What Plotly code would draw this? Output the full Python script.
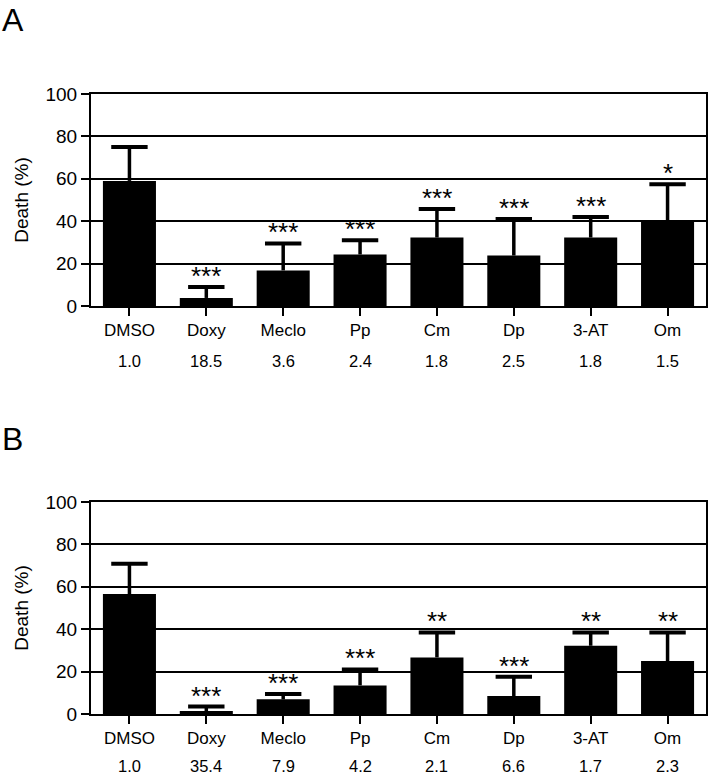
import plotly.graph_objects as go

categories = ["DMSO", "Doxy", "Meclo", "Pp", "Cm", "Dp", "3-AT", "Om"]

death_A = [59.0, 3.8, 16.8, 24.3, 32.3, 23.8, 32.3, 40.2]
err_A = [16.0, 5.2, 12.7, 6.7, 13.4, 17.2, 9.7, 17.2]
stars_A = ["", "***", "***", "***", "***", "***", "***", "*"]
fold_A = ["1.0", "18.5", "3.6", "2.4", "1.8", "2.5", "1.8", "1.5"]

death_B = [56.6, 1.4, 6.9, 13.5, 26.7, 8.5, 32.2, 25.0]
err_B = [14.3, 2.1, 2.5, 7.5, 11.8, 9.1, 6.3, 13.5]
stars_B = ["", "***", "***", "***", "**", "***", "**", "**"]
fold_B = ["1.0", "35.4", "7.9", "4.2", "2.1", "6.6", "1.7", "2.3"]

y_ticks = [0, 20, 40, 60, 80, 100]

W, H = 708, 777
FONT = "Arial, Liberation Sans, sans-serif"

def py(px):
    return 1 - px / H

fig = go.Figure()

# (xaxis, yaxis, values, errors, stars, fold labels, plot top px, plot bottom px,
#  panel letter, letter top px, fold-label offset px)
panels = [
    ("x", "y", death_A, err_A, stars_A, fold_A, 94, 306, "A", 0, 55),
    ("x2", "y2", death_B, err_B, stars_B, fold_B, 502, 714, "B", 419, 52),
]

annotations = []
for xa, ya, vals, errs, stars, folds, top, bot, letter, letter_top, foff in panels:
    tops = [v + e for v, e in zip(vals, errs)]
    fig.add_trace(go.Bar(
        x=categories, y=vals, xaxis=xa, yaxis=ya,
        marker=dict(color="black", line=dict(width=0)),
        error_y=dict(type="data", array=errs, arrayminus=[0] * len(errs),
                     symmetric=False, color="black", thickness=3.5, width=0),
        showlegend=False, hoverinfo="skip",
    ))
    # error bar caps
    fig.add_trace(go.Scatter(
        x=categories, y=tops, xaxis=xa, yaxis=ya, mode="markers",
        marker=dict(symbol="line-ew", size=26, color="black",
                    line=dict(width=4, color="black")),
        showlegend=False, hoverinfo="skip",
    ))
    for c, t, s in zip(categories, tops, stars):
        if s:
            annotations.append(dict(
                x=c, y=t, xref=xa, yref=ya, text=s, showarrow=False,
                yanchor="middle", yshift=11,
                font=dict(family=FONT, size=26, color="black")))
    for c, f in zip(categories, folds):
        annotations.append(dict(
            x=c, y=py(bot + foff), xref=xa, yref="paper", text=f,
            showarrow=False, yanchor="middle",
            font=dict(family=FONT, size=16.5, color="black")))
    annotations.append(dict(
        x=0.0, y=py(letter_top), xref="paper", yref="paper", text=letter,
        showarrow=False, xanchor="left", yanchor="top",
        font=dict(family=FONT, size=32, color="black")))

xdom = [91 / W, 706 / W]
axis_common = dict(showline=True, linecolor="black", linewidth=2, mirror=True,
                   ticks="outside", tickcolor="black", tickwidth=2, ticklen=8,
                   automargin=False)

xaxis_style = dict(axis_common, domain=xdom, range=[-0.5, 7.5],
                   tickfont=dict(family=FONT, size=17, color="black"),
                   showgrid=False)
yaxis_style = dict(axis_common, range=[0, 100], tickvals=y_ticks,
                   showgrid=True, gridcolor="black", gridwidth=2,
                   zeroline=False,
                   tickfont=dict(family=FONT, size=19, color="black"),
                   title=dict(text="Death (%)", standoff=12,
                              font=dict(family=FONT, size=19, color="black")))

fig.update_layout(
    width=W, height=H,
    margin=dict(l=0, r=0, t=0, b=0),
    paper_bgcolor="white", plot_bgcolor="white",
    bargap=0.31,
    xaxis=dict(xaxis_style, anchor="y"),
    yaxis=dict(yaxis_style, domain=[py(306), py(94)], anchor="x"),
    xaxis2=dict(xaxis_style, anchor="y2"),
    yaxis2=dict(yaxis_style, domain=[py(714), py(502)], anchor="x2"),
    annotations=annotations,
)

fig.write_html(
    "out.html",
    config={"displayModeBar": False},
    post_script="document.body.style.margin='0px';"
                "document.body.style.overflow='hidden';",
)
